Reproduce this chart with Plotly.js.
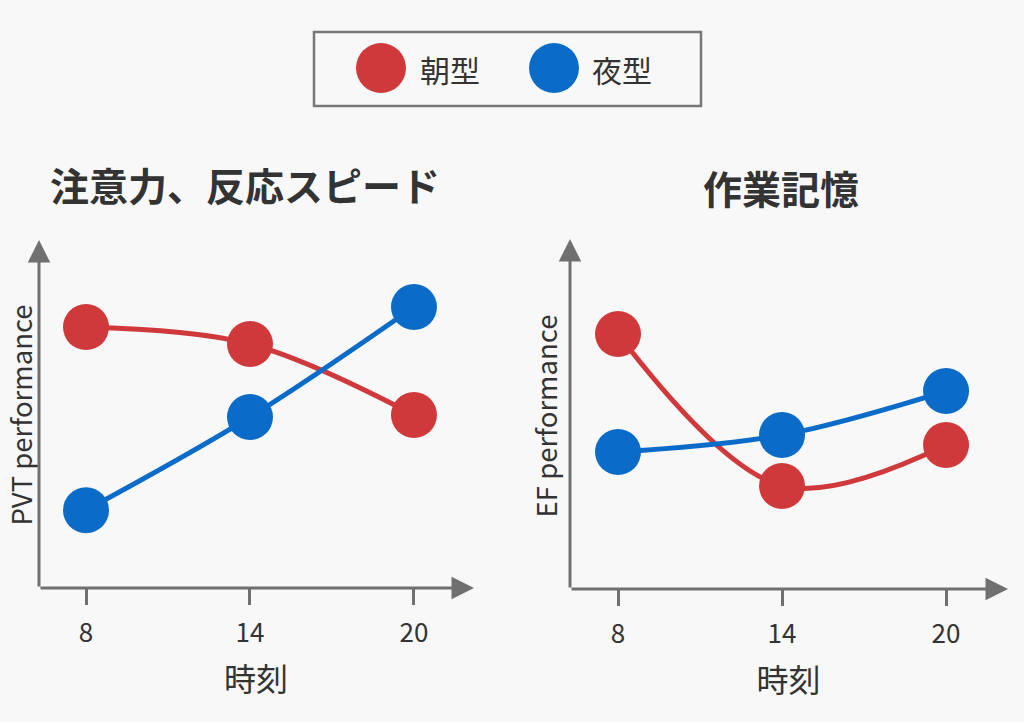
<!DOCTYPE html>
<html>
<head>
<meta charset="utf-8">
<script src="https://cdn.plot.ly/plotly-3.0.1.min.js"></script>
<style>
  html, body { margin: 0; padding: 0; background: #f8f8f8; }
  #chart { width: 1024px; height: 722px; }
</style>
</head>
<body>
<div id="chart"></div>
<script>
// 時刻ごとの成績（相対値、画像から読み取り）
var hours = [8, 14, 20];
var hourLabels = ['8', '14', '20'];

// 注意力、反応スピード (PVT)
var pvtMorning = [7.54, 7.05, 5.00];
var pvtEvening = [2.25, 4.94, 8.12];

// 作業記憶 (EF)
var efMorning = [7.37, 2.98, 4.16];
var efEvening = [3.96, 4.45, 5.72];

var seriesNames = ['朝型', '夜型'];

var RED = '#d0393b';
var BLUE = '#0a6cc8';
var AXIS = '#707070';
var TEXT = '#333333';
var FONT = '"Noto Sans CJK JP", "Noto Sans", sans-serif';

// pixel -> paper helpers
var W = 1024, H = 722;
function px(x) { return x / W; }
function py(y) { return 1 - y / H; }

function line(xs, ys, color, xa, ya) {
  return {
    x: xs,
    y: ys,
    xaxis: xa,
    yaxis: ya,
    type: 'scatter',
    mode: 'lines+markers',
    line: { color: color, width: 5, shape: 'spline', smoothing: 1 },
    marker: { color: color, size: 46 },
    hoverinfo: 'none',
    showlegend: false,
    cliponaxis: false
  };
}

var data = [
  line(hours, pvtMorning, RED, 'x', 'y'),
  line(hours, pvtEvening, BLUE, 'x', 'y'),
  line(hours, efMorning, RED, 'x2', 'y2'),
  line(hours, efEvening, BLUE, 'x2', 'y2')
];

function xAxis(domain, range, anchor) {
  return {
    domain: domain,
    range: range,
    anchor: anchor,
    showline: false,
    showgrid: false,
    zeroline: false,
    tickvals: hours,
    ticktext: hourLabels,
    ticks: 'outside',
    ticklen: 16,
    tickwidth: 3,
    tickcolor: AXIS,
    ticklabelstandoff: 6,
    tickfont: { size: 26, color: TEXT, family: FONT },
    title: { text: '時刻', font: { size: 32, color: TEXT, family: FONT }, standoff: 20 }
  };
}

function yAxis(domain, anchor, titleText) {
  return {
    domain: domain,
    range: [0, 10],
    anchor: anchor,
    showline: false,
    showgrid: false,
    zeroline: false,
    showticklabels: false,
    ticks: '',
    title: { text: titleText, font: { size: 27.5, color: TEXT, family: FONT }, standoff: 3 }
  };
}

// arrow axes
function arrow(x0, y0, x1, y1) {
  return {
    xref: 'paper', yref: 'paper',
    x: px(x1), y: py(y1),
    ax: x0 - x1, ay: y0 - y1,
    text: '',
    showarrow: true,
    arrowhead: 2,
    arrowsize: 1.5,
    arrowwidth: 3,
    arrowcolor: AXIS
  };
}

function label(text, x, y, size, bold) {
  return {
    xref: 'paper', yref: 'paper',
    x: px(x), y: py(y),
    xanchor: 'center', yanchor: 'middle',
    text: bold ? '<b>' + text + '</b>' : text,
    showarrow: false,
    font: { size: size, color: TEXT, family: FONT }
  };
}

var annotations = [
  arrow(39, 588, 474, 588),
  arrow(39, 588, 39, 240),
  arrow(570, 589, 1008, 589),
  arrow(570, 589, 570, 239),
  label('注意力、反応スピード', 245, 184, 39, true),
  label('作業記憶', 781, 187, 39, true),
  label(seriesNames[0], 450, 69, 30, false),
  label(seriesNames[1], 622, 69, 30, false)
];

function circle(cx, cy, r, color) {
  return {
    type: 'circle', xref: 'paper', yref: 'paper',
    x0: px(cx - r), x1: px(cx + r),
    y0: py(cy + r), y1: py(cy - r),
    fillcolor: color,
    line: { width: 0 }
  };
}

var shapes = [
  {
    type: 'rect', xref: 'paper', yref: 'paper',
    x0: px(314), x1: px(701), y0: py(106), y1: py(32),
    line: { color: '#777777', width: 2.5 },
    fillcolor: 'rgba(0,0,0,0)'
  },
  circle(381, 68, 25, RED),
  circle(554, 68, 25, BLUE)
];

var layout = {
  width: W,
  height: H,
  margin: { l: 0, r: 0, t: 0, b: 0 },
  paper_bgcolor: '#f8f8f8',
  plot_bgcolor: '#f8f8f8',
  font: { family: FONT, color: TEXT },
  showlegend: false,
  xaxis: xAxis([px(39), px(473)], [6.28, 22.16], 'y'),
  yaxis: yAxis([py(588), py(242)], 'x', 'PVT performance'),
  xaxis2: xAxis([px(570), px(1007)], [6.244, 22.23], 'y2'),
  yaxis2: yAxis([py(589), py(243)], 'x2', 'EF performance'),
  annotations: annotations,
  shapes: shapes
};

Plotly.newPlot('chart', data, layout, { staticPlot: true });
</script>
</body>
</html>
